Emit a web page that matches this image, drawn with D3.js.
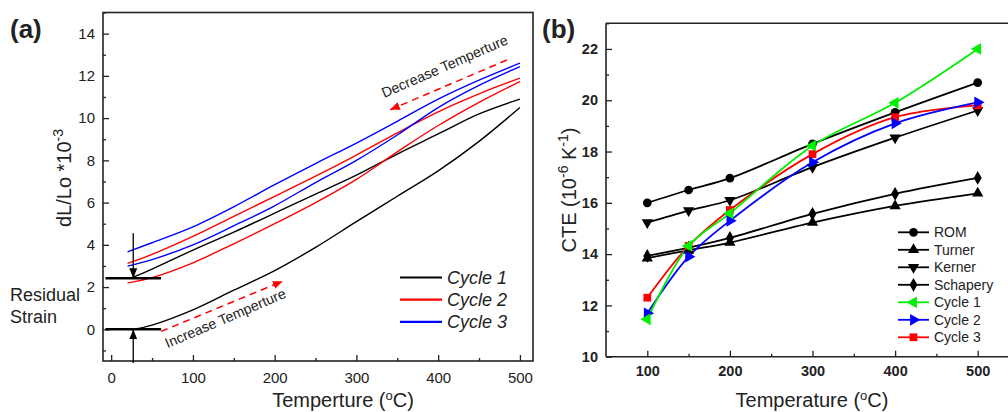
<!DOCTYPE html>
<html><head><meta charset="utf-8">
<script src="https://cdn.jsdelivr.net/npm/d3@7"></script>
<style>
body{margin:0;background:#fff;}
svg{display:block;}
text{font-family:"Liberation Sans",Arial,sans-serif;}
</style></head>
<body>
<svg id="chart" width="1008" height="412"></svg>
<script>
// ---------- Panel (a) data: dL/Lo (x10^-3) vs temperature ----------
const tempA = [20, 50, 100, 150, 200, 250, 300, 350, 400, 450, 500];
const tempA1 = [27, 50, 100, 150, 200, 250, 300, 350, 400, 450, 500];
const cycle1Heat = [0, 0.2, 0.92, 1.85, 2.78, 3.88, 5.1, 6.3, 7.5, 8.9, 10.5];
const cycle1Cool = [2.47, 2.85, 3.75, 4.6, 5.5, 6.4, 7.3, 8.3, 9.25, 10.2, 10.9];
const cycle2Heat = [2.2, 2.45, 3.15, 4.05, 5.0, 6.0, 7.1, 8.4, 9.65, 10.75, 11.73];
const cycle2Cool = [3.12, 3.55, 4.4, 5.35, 6.3, 7.25, 8.25, 9.3, 10.3, 11.15, 11.89];
const cycle3Heat = [2.99, 3.3, 4.0, 4.9, 5.85, 6.95, 8.0, 9.2, 10.5, 11.55, 12.44];
const cycle3Cool = [3.67, 4.1, 4.85, 5.8, 6.85, 7.85, 8.82, 9.85, 10.9, 11.8, 12.6];
const legendA = ["Cycle 1", "Cycle 2", "Cycle 3"];
const xTicksA = [0, 100, 200, 300, 400, 500];
const yTicksA = [0, 2, 4, 6, 8, 10, 12, 14];
const residualStrain = 2.42;

// ---------- Panel (b) data: CTE vs temperature ----------
const tempB = [100, 150, 200, 300, 400, 500];
const seriesNamesB = ["ROM", "Turner", "Kerner", "Schapery", "Cycle 1", "Cycle 2", "Cycle 3"];
const rom = [16.0, 16.5, 16.96, 18.3, 19.53, 20.69];
const turner = [13.84, 14.15, 14.45, 15.23, 15.88, 16.37];
const kerner = [15.23, 15.7, 16.1, 17.39, 18.54, 19.6];
const schapery = [13.93, 14.25, 14.63, 15.57, 16.35, 16.97];
const cycle1CTE = [11.46, 14.32, 15.59, 18.23, 19.9, 22.0];
const cycle2CTE = [11.69, 13.9, 15.3, 17.58, 19.1, 19.92];
const cycle3CTE = [12.3, 14.32, 15.72, 17.9, 19.34, 19.8];
const xTicksB = [100, 200, 300, 400, 500];
const yTicksB = [10, 12, 14, 16, 18, 20, 22];

const svg = d3.select("#chart");
svg.append("rect").attr("width", 1008).attr("height", 412).attr("fill", "#fff");

// ================= Panel (a) =================
const xA = d3.scaleLinear().domain([-10, 516]).range([103, 533]);
const yA = d3.scaleLinear().domain([-1.5, 15]).range([361, 12.5]);
const gA = svg.append("g");

function styleAxis(g, size, bold) {
  g.select(".domain").remove();
  g.selectAll(".tick line").attr("stroke", "#222").attr("stroke-width", 1.3);
  g.selectAll(".tick text").attr("fill", "#222").attr("font-size", size)
    .attr("font-weight", bold ? "bold" : "normal")
    .attr("font-family", "'Liberation Sans', Arial, sans-serif");
}

// minor ticks
gA.append("g").attr("transform", "translate(0,361)")
  .call(d3.axisBottom(xA).tickValues(d3.range(50, 516, 100)).tickSize(-3).tickFormat(""))
  .call(g => styleAxis(g, 14));
gA.append("g").attr("transform", "translate(103,0)")
  .call(d3.axisLeft(yA).tickValues(d3.range(-1, 15.1, 2)).tickSize(-3).tickFormat(""))
  .call(g => styleAxis(g, 14));
// major ticks
gA.append("g").attr("transform", "translate(0,361)")
  .call(d3.axisBottom(xA).tickValues(xTicksA).tickSize(-6).tickPadding(11))
  .call(g => styleAxis(g, 15));
gA.append("g").attr("transform", "translate(103,0)")
  .call(d3.axisLeft(yA).tickValues(yTicksA).tickSize(-6).tickPadding(8))
  .call(g => styleAxis(g, 15));

// curves
const lineA = (ts) => d3.line().x((d, i) => xA(ts[i])).y(d => yA(d)).curve(d3.curveCatmullRom.alpha(0.5));
const curvesA = [
  {v: cycle1Heat, t: tempA1, c: "#000"},
  {v: cycle1Cool, t: tempA1, c: "#000"},
  {v: cycle2Heat, t: tempA, c: "#ff0000"},
  {v: cycle2Cool, t: tempA, c: "#ff0000"},
  {v: cycle3Heat, t: tempA, c: "#0000ff"},
  {v: cycle3Cool, t: tempA, c: "#0000ff"}
];
curvesA.forEach(cv => {
  gA.append("path").attr("d", lineA(cv.t)(cv.v)).attr("fill", "none")
    .attr("stroke", cv.c).attr("stroke-width", 1.4);
});

// frame
gA.append("rect").attr("x", 103).attr("y", 12.5).attr("width", 430).attr("height", 348.5)
  .attr("fill", "none").attr("stroke", "#222").attr("stroke-width", 1.6);

// residual strain bars and arrows
const defs = svg.append("defs");
function marker(id, color) {
  defs.append("marker").attr("id", id).attr("viewBox", "0 0 10 10").attr("refX", 10).attr("refY", 5)
    .attr("markerWidth", 10).attr("markerHeight", 10).attr("markerUnits", "userSpaceOnUse").attr("orient", "auto")
    .append("path").attr("d", "M0,1 L10,5 L0,9 Z").attr("fill", color);
}
marker("arrBlack", "#000");
marker("arrRed", "#ff0000");

[residualStrain, 0].forEach(v => {
  gA.append("line").attr("x1", xA(-7)).attr("x2", xA(61)).attr("y1", yA(v)).attr("y2", yA(v))
    .attr("stroke", "#000").attr("stroke-width", 2.6);
});
gA.append("line").attr("x1", xA(27)).attr("x2", xA(27)).attr("y1", yA(4.55)).attr("y2", yA(residualStrain))
  .attr("stroke", "#000").attr("stroke-width", 1.3).attr("marker-end", "url(#arrBlack)");
gA.append("line").attr("x1", xA(27)).attr("x2", xA(27)).attr("y1", yA(-1.6)).attr("y2", yA(0))
  .attr("stroke", "#000").attr("stroke-width", 1.3).attr("marker-end", "url(#arrBlack)");

// temperature direction arrows
gA.append("line").attr("x1", xA(61)).attr("y1", yA(-0.1)).attr("x2", xA(210)).attr("y2", yA(2.28))
  .attr("stroke", "#ff0000").attr("stroke-width", 1.5).attr("stroke-dasharray", "7,5")
  .attr("marker-end", "url(#arrRed)");
gA.append("line").attr("x1", xA(484)).attr("y1", yA(12.75)).attr("x2", xA(341)).attr("y2", yA(10.39))
  .attr("stroke", "#ff0000").attr("stroke-width", 1.5).attr("stroke-dasharray", "7,5")
  .attr("marker-end", "url(#arrRed)");

gA.append("text").attr("transform", `translate(${xA(69)},${yA(-0.9)}) rotate(-23.2)`)
  .attr("font-family", "'Open Sans', sans-serif").attr("font-size", 14.2).attr("fill", "#222")
  .text("Increase Temperture");
gA.append("text").attr("transform", `translate(${xA(334)},${yA(10.95)}) rotate(-23.6)`)
  .attr("font-family", "'Open Sans', sans-serif").attr("font-size", 14.2).attr("fill", "#222")
  .text("Decrease Temperture");

// Residual Strain text
gA.append("text").attr("x", 10).attr("y", 301).attr("font-size", 18).attr("fill", "#222").text("Residual");
gA.append("text").attr("x", 10).attr("y", 323).attr("font-size", 18).attr("fill", "#222").text("Strain");

// legend (a)
const colorsA = ["#000", "#ff0000", "#0000ff"];
legendA.forEach((name, i) => {
  const y = 277.5 + i * 22.2;
  gA.append("line").attr("x1", 400).attr("x2", 442).attr("y1", y).attr("y2", y)
    .attr("stroke", colorsA[i]).attr("stroke-width", 2.2);
  gA.append("text").attr("x", 447).attr("y", y).attr("dy", "0.36em").attr("font-size", 18)
    .attr("font-style", "italic").attr("fill", "#222").text(name);
});

// axis titles (a)
gA.append("text").attr("x", 343).attr("y", 407).attr("text-anchor", "middle").attr("font-size", 20)
  .attr("fill", "#222")
  .html('Temperture (<tspan dy="-7" font-size="13">o</tspan><tspan dy="7">C)</tspan>');
gA.append("text").attr("transform", "translate(71,178) rotate(-90)").attr("text-anchor", "middle")
  .attr("font-size", 20).attr("fill", "#222")
  .html('dL/Lo *10<tspan dy="-8" font-size="14">-3</tspan>');
gA.append("text").attr("x", 10).attr("y", 38).attr("font-size", 26).attr("font-weight", "bold")
  .attr("fill", "#222").text("(a)");

// ================= Panel (b) =================
const xB = d3.scaleLinear().domain([50, 550]).range([606, 1019]);
const yB = d3.scaleLinear().domain([10, 23]).range([356.7, 23.3]);
const gB = svg.append("g");

gB.append("g").attr("transform", "translate(0,356.7)")
  .call(d3.axisBottom(xB).tickValues([150, 250, 350, 450]).tickSize(-3).tickFormat(""))
  .call(g => styleAxis(g, 14, true));
gB.append("g").attr("transform", "translate(606,0)")
  .call(d3.axisLeft(yB).tickValues([11, 13, 15, 17, 19, 21, 23]).tickSize(-3).tickFormat(""))
  .call(g => styleAxis(g, 14, true));
gB.append("g").attr("transform", "translate(0,356.7)")
  .call(d3.axisBottom(xB).tickValues(xTicksB).tickSize(-6).tickPadding(9))
  .call(g => styleAxis(g, 14.5, true));
gB.append("g").attr("transform", "translate(606,0)")
  .call(d3.axisLeft(yB).tickValues(yTicksB).tickSize(-6).tickPadding(8))
  .call(g => styleAxis(g, 14.5, true));

const seriesB = [
  {name: seriesNamesB[0], v: rom, c: "#000", sym: d3.symbolCircle, size: 60, rot: 0},
  {name: seriesNamesB[1], v: turner, c: "#000", sym: d3.symbolTriangle, size: 55, rot: 0},
  {name: seriesNamesB[2], v: kerner, c: "#000", sym: d3.symbolTriangle, size: 55, rot: 180},
  {name: seriesNamesB[3], v: schapery, c: "#000", sym: d3.symbolDiamond, size: 55, rot: 0},
  {name: seriesNamesB[4], v: cycle1CTE, c: "#00ee00", sym: d3.symbolTriangle, size: 60, rot: -90},
  {name: seriesNamesB[5], v: cycle2CTE, c: "#0000ff", sym: d3.symbolTriangle, size: 60, rot: 90},
  {name: seriesNamesB[6], v: cycle3CTE, c: "#ff0000", sym: d3.symbolSquare, size: 60, rot: 0}
];
const lineB = d3.line().x((d, i) => xB(tempB[i])).y(d => yB(d)).curve(d3.curveCatmullRom.alpha(0.5));
const drawOrder = [0, 1, 2, 3, 6, 5, 4];
drawOrder.forEach(k => {
  const s = seriesB[k];
  gB.append("path").attr("d", lineB(s.v)).attr("fill", "none").attr("stroke", s.c).attr("stroke-width", 1.8);
});
drawOrder.forEach(k => {
  const s = seriesB[k];
  gB.selectAll(null).data(s.v).enter().append("path")
    .attr("d", d3.symbol().type(s.sym).size(s.size))
    .attr("transform", (d, i) => `translate(${xB(tempB[i])},${yB(d)}) rotate(${s.rot})`)
    .attr("fill", s.c);
});

// frame (b)
gB.append("line").attr("x1", 606).attr("x2", 1008).attr("y1", 23.3).attr("y2", 23.3).attr("stroke", "#222").attr("stroke-width", 1.6);
gB.append("line").attr("x1", 606).attr("x2", 1008).attr("y1", 356.7).attr("y2", 356.7).attr("stroke", "#222").attr("stroke-width", 1.6);
gB.append("line").attr("x1", 606).attr("x2", 606).attr("y1", 23.3).attr("y2", 356.7).attr("stroke", "#222").attr("stroke-width", 1.6);

// legend (b)
seriesB.forEach((s, i) => {
  const y = 232.3 + i * 17.5;
  gB.append("line").attr("x1", 898).attr("x2", 929).attr("y1", y).attr("y2", y)
    .attr("stroke", s.c).attr("stroke-width", 1.8);
  gB.append("path").attr("d", d3.symbol().type(s.sym).size(s.size))
    .attr("transform", `translate(913.5,${y}) rotate(${s.rot})`).attr("fill", s.c);
  gB.append("text").attr("x", 934).attr("y", y).attr("dy", "0.36em").attr("font-size", 14)
    .attr("fill", "#222").text(s.name);
});

// axis titles (b)
gB.append("text").attr("x", 812).attr("y", 407).attr("text-anchor", "middle").attr("font-size", 20)
  .attr("fill", "#222")
  .html('Temperature (<tspan dy="-7" font-size="13">o</tspan><tspan dy="7">C)</tspan>');
gB.append("text").attr("transform", "translate(576,190) rotate(-90)").attr("text-anchor", "middle")
  .attr("font-size", 20).attr("fill", "#222")
  .html('CTE (10<tspan dy="-8" font-size="14">-6</tspan><tspan dy="8"> K</tspan><tspan dy="-8" font-size="14">-1</tspan><tspan dy="8">)</tspan>');
gB.append("text").attr("x", 542).attr("y", 38).attr("font-size", 26).attr("font-weight", "bold")
  .attr("fill", "#222").text("(b)");
</script>
</body></html>
